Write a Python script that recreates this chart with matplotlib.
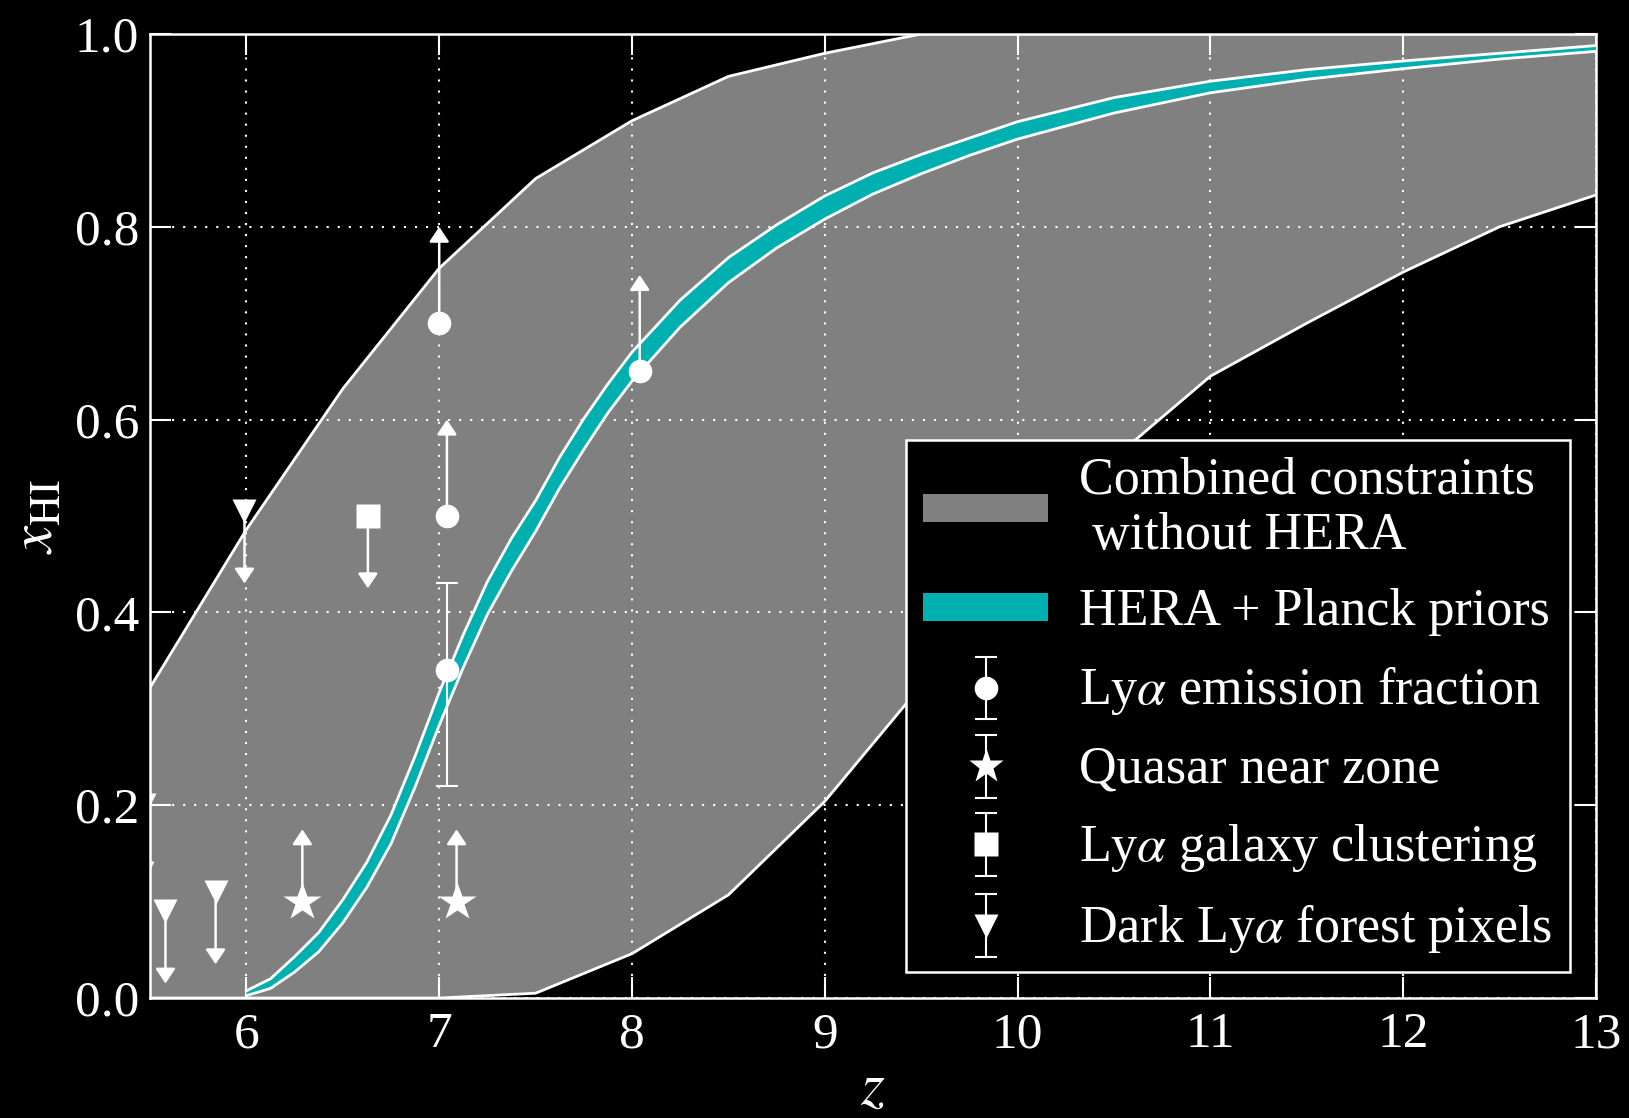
import numpy as np
import matplotlib.pyplot as plt
from matplotlib.patches import Patch
from matplotlib.legend_handler import HandlerErrorbar

plt.rcParams['font.family'] = ['Liberation Serif', 'DejaVu Serif']
plt.rcParams['mathtext.fontset'] = 'stix'

# combined constraints without HERA (grey band)
z_band = [5.5, 6.0, 6.5, 7.0, 7.5, 8.0, 8.5, 9.0, 9.5, 10.0, 10.5, 11.0, 11.5, 12.0, 12.5, 13.0]
band_hi = [0.322, 0.486, 0.632, 0.757, 0.850, 0.910, 0.956, 0.980, 1.0, 1.0, 1.0, 1.0, 1.0, 1.0, 1.0, 1.0]
band_lo = [0.0, 0.0, 0.0, 0.0, 0.005, 0.046, 0.107, 0.204, 0.324, 0.45, 0.56, 0.645, 0.70, 0.753, 0.80, 0.833]

# HERA + Planck priors
z_hera = [6.0, 6.125, 6.25, 6.375, 6.5, 6.625, 6.75, 6.875, 7.0, 7.125, 7.25, 7.375, 7.5,
          7.625, 7.75, 7.875, 8.0, 8.25, 8.5, 8.75, 9.0, 9.25, 9.5, 9.75, 10.0, 10.5,
          11.0, 11.5, 12.0, 12.5, 13.0]
hera_lo = [0.0025, 0.010, 0.027, 0.048, 0.078, 0.115, 0.160, 0.219, 0.283, 0.343, 0.398,
           0.443, 0.484, 0.529, 0.569, 0.607, 0.640, 0.696, 0.742, 0.778, 0.808, 0.834,
           0.855, 0.874, 0.891, 0.918, 0.939, 0.953, 0.964, 0.974, 0.982]
hera_hi = [0.0075, 0.020, 0.043, 0.068, 0.102, 0.141, 0.190, 0.251, 0.317, 0.377, 0.432,
           0.477, 0.516, 0.561, 0.601, 0.637, 0.670, 0.724, 0.768, 0.802, 0.832, 0.856,
           0.875, 0.892, 0.909, 0.934, 0.951, 0.963, 0.972, 0.980, 0.988]

# Lya emission fraction: lower limits + one measurement
lae_z = [7.0, 7.04, 8.04]
lae_x = [0.70, 0.50, 0.65]
lae_meas_z = [7.04]
lae_meas_x = [0.34]
lae_meas_err = [[0.12], [0.09]]

# quasar near zone: lower limits
qso_z = [6.29, 7.09]
qso_x = [0.10, 0.10]

# Lya galaxy clustering: upper limit
clus_z = [6.63]
clus_x = [0.50]

# dark Lya forest pixels: upper limits
dark_z = [5.47, 5.46, 5.58, 5.84, 5.99]
dark_x = [0.20, 0.13, 0.09, 0.11, 0.505]

lim_len = 0.10
lim_len_short = 0.075

fig = plt.figure(figsize=(16.29, 11.18), dpi=100, facecolor='k')
ax = fig.add_axes([0.0921, 0.1073, 0.8876, 0.8623], facecolor='k')

ax.fill_between(z_band, band_lo, band_hi, facecolor='#808080', edgecolor='none', zorder=1)
ax.plot(z_band, band_hi, color='w', lw=2, zorder=1.5)
ax.plot(z_band, band_lo, color='w', lw=2, zorder=1.5)

ax.fill_between(z_hera, hera_lo, hera_hi, facecolor='#00b0b0', edgecolor='none', zorder=3)
ax.plot(z_hera, hera_lo, color='w', lw=2, zorder=3)
ax.plot(z_hera, hera_hi, color='w', lw=2, zorder=3)


def limit_arrows(zs, xs, length):
    for z, x in zip(zs, xs):
        if z < 5.5:
            continue
        ax.annotate('', xy=(z, x + length), xytext=(z, x),
                    arrowprops=dict(arrowstyle='-|>,head_length=0.45,head_width=0.3',
                                    color='w', lw=1.8, shrinkA=0, shrinkB=0,
                                    mutation_scale=20), zorder=4)


limit_arrows(lae_z, lae_x, lim_len)
limit_arrows(qso_z, qso_x, lim_len_short)
limit_arrows(clus_z, clus_x, -lim_len_short)
limit_arrows(dark_z, dark_x, -lim_len_short)

ax.errorbar(lae_meas_z, lae_meas_x, yerr=lae_meas_err, fmt='none', ecolor='w',
            elinewidth=1.5, capsize=8, capthick=1.5, zorder=4)
ax.plot(lae_z + lae_meas_z, lae_x + lae_meas_x, 'o', color='w', ms=17, mec='none', zorder=5)
ax.plot(qso_z, qso_x, '*', color='w', ms=29, mec='none', zorder=5)
ax.plot(clus_z, clus_x, 's', color='w', ms=17, mec='none', zorder=5)
ax.plot(dark_z, dark_x, 'v', color='w', ms=17, mec='none', zorder=5)

ax.set_xlim(5.5, 13)
ax.set_ylim(0, 1)
ax.set_xticks([6, 7, 8, 9, 10, 11, 12, 13])
ax.set_yticks([0.0, 0.2, 0.4, 0.6, 0.8, 1.0])
ax.set_yticklabels(['0.0', '0.2', '0.4', '0.6', '0.8', '1.0'])
ax.set_axisbelow(False)
ax.grid(True, color='w', linestyle=(0, (1, 4.3)), lw=1.5)
ax.tick_params(direction='in', length=15, width=1.5, colors='w', top=True, right=True,
               labelsize=37, pad=10)
ax.tick_params(axis='y', pad=8)
for s in ax.spines.values():
    s.set_color('w')
    s.set_linewidth(1.8)

ax.set_xlabel('$z$', color='w', fontsize=44)
ax.set_ylabel(r'$x_{\rm HI}$', color='w', fontsize=44)
ax.xaxis.set_label_coords(0.5, -0.066)
ax.yaxis.set_label_coords(-0.058, 0.5)

# proxy handles for the legend
h_band = Patch(facecolor='#808080', edgecolor='none')
h_hera = Patch(facecolor='#00b0b0', edgecolor='none')
eb_kw = dict(color='w', mec='none', elinewidth=1.5, capsize=8, capthick=1.5)
h_lae = ax.errorbar([np.nan], [np.nan], yerr=[np.nan], fmt='o', ms=17, **eb_kw)
h_qso = ax.errorbar([np.nan], [np.nan], yerr=[np.nan], fmt='*', ms=26, **eb_kw)
h_clus = ax.errorbar([np.nan], [np.nan], yerr=[np.nan], fmt='s', ms=17, **eb_kw)
h_dark = ax.errorbar([np.nan], [np.nan], yerr=[np.nan], fmt='v', ms=17, **eb_kw)

leg = ax.legend([h_band, h_hera, h_lae, h_qso, h_clus, h_dark],
                ['Combined constraints\n without HERA', 'HERA + Planck priors',
                 r'Ly$\alpha$ emission fraction', 'Quasar near zone',
                 r'Ly$\alpha$ galaxy clustering', r'Dark Ly$\alpha$ forest pixels'],
                loc='lower right', fontsize=37.5, frameon=True, fancybox=False,
                facecolor='k', edgecolor='w', framealpha=1, labelcolor='w',
                handlelength=2.4, handleheight=0.45, handletextpad=0.6,
                labelspacing=0.54, borderpad=0.33, borderaxespad=0.5,
                handler_map={type(h_lae): HandlerErrorbar(xerr_size=0.5, yerr_size=0.6)})
leg.get_frame().set_linewidth(1.8)
leg.set_zorder(10)

fig.savefig('out.png', dpi=100, facecolor='k')
